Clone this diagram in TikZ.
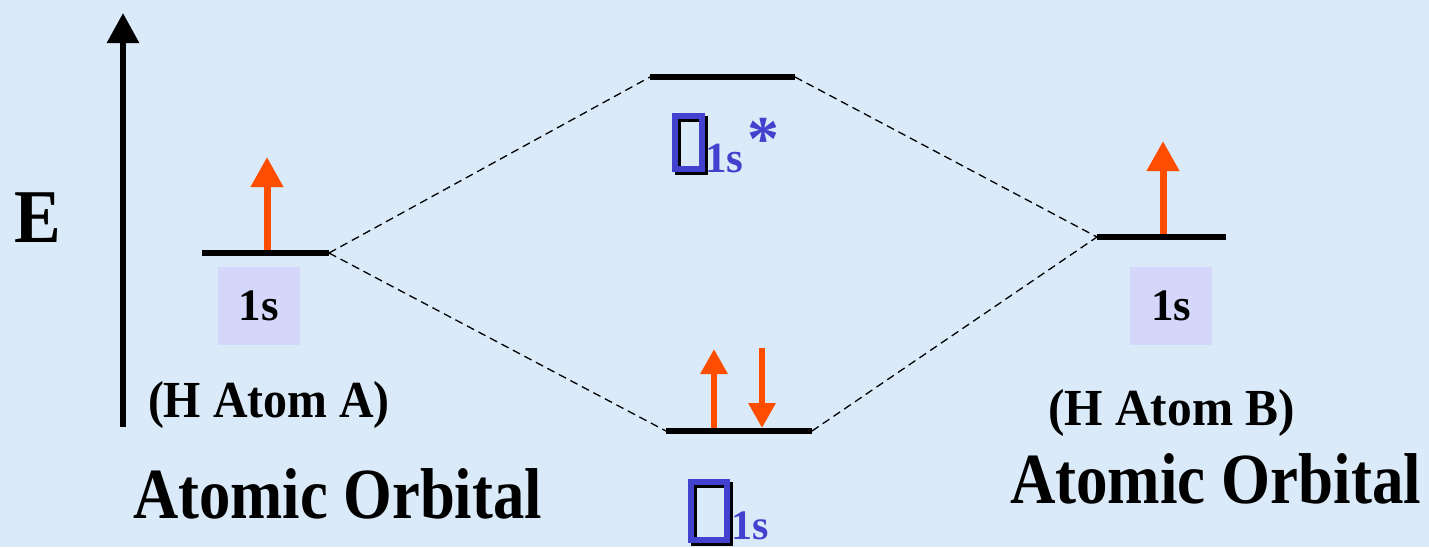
\documentclass[tikz,border=0pt]{standalone}
\usepackage{fontspec}
\setmainfont{Liberation Serif}
\usetikzlibrary{arrows.meta}
\definecolor{bgblue}{RGB}{219,234,248}
\definecolor{spinred}{RGB}{255,77,0}
\definecolor{boxlav}{RGB}{212,214,250}
\definecolor{sigblue}{RGB}{66,66,206}
\newcommand{\myfs}[1]{\fontsize{#1}{#1}\selectfont\bfseries}
\begin{document}
\begin{tikzpicture}[x=1pt,y=-1pt,
  level/.style={line width=6pt},
  corr/.style={dashed, dash pattern=on 8pt off 5pt, line width=1.3pt},
  spinbig/.style={spinred, line width=7pt, -{Triangle[width=31pt,length=30pt]}},
  spinsmall/.style={spinred, line width=6pt, -{Triangle[width=26pt,length=25pt]}},
  orbbox/.style={fill=boxlav, draw=none, minimum width=82pt, minimum height=78pt, inner sep=0pt},
  txt/.style={inner sep=0pt, outer sep=0pt},
  sigbox/.style={draw=sigblue, line width=5.5pt, inner sep=0pt, fill=none},
  sigshadow/.style={draw=black, line width=5.5pt, inner sep=0pt, fill=none}
]
\fill[bgblue] (0,0) rectangle (1429,547);
\useasboundingbox (0,0) rectangle (1429,547);

% energy axis
\coordinate (axbot) at (123,427);
\coordinate (axtop) at (123,13);
\draw[line width=6pt, -{Triangle[width=31pt,length=30pt]}] (axbot) -- (axtop);
\node[txt, anchor=base] (E) at (38,242) {\myfs{76}\scalebox{0.92}[1]{E}};

% level coordinates
\coordinate (aL) at (202,253); \coordinate (aR) at (329,253);
\coordinate (bL) at (1097,237); \coordinate (bR) at (1226,237);
\coordinate (sxL) at (650,77); \coordinate (sxR) at (795,77);
\coordinate (sL) at (666,431); \coordinate (sR) at (812,431);

% correlation lines
\draw[corr] (aR) -- (sxL);
\draw[corr] (aR) -- (sL);
\draw[corr] (sxR) -- (bL);
\draw[corr] (sR) -- (bL);

% spin arrows
\coordinate (a1) at (267,253); \coordinate (a2) at (267,157);
\coordinate (b1) at (1163,237); \coordinate (b2) at (1163,141);
\coordinate (u1) at (714,431); \coordinate (u2) at (714,349);
\coordinate (d1) at (762,348); \coordinate (d2) at (762,428);
\draw[spinbig] (a1) -- (a2);
\draw[spinbig] (b1) -- (b2);
\draw[spinsmall] (u1) -- (u2);
\draw[spinsmall] (d1) -- (d2);

% levels
\draw[level] (aL) -- (aR);
\draw[level] (bL) -- (bR);
\draw[level] (sxL) -- (sxR);
\draw[level] (sL) -- (sR);

% 1s boxes
\node[orbbox] (boxA) at (259,306) {};
\node[txt, anchor=base] (lblA) at (259,320) {\myfs{45}1s};
\node[orbbox] (boxB) at (1171,306) {};
\node[txt, anchor=base] (lblB) at (1171,320) {\myfs{45}1s};

% sigma* label
\node[sigshadow, minimum width=27pt, minimum height=53pt] (sxsh) at (691.5,145.5) {};
\node[sigbox, minimum width=27pt, minimum height=53pt] (sxbox) at (688.5,142.5) {};
\node[txt, anchor=base west, text=sigblue] (sxsub) at (705,172) {\myfs{43}1s};
\node[txt, anchor=base, text=sigblue] (star) at (763,160) {\myfs{64}*};

% sigma label
\node[sigshadow, minimum width=36pt, minimum height=58pt] (ssh) at (712,514) {};
\node[sigbox, minimum width=36pt, minimum height=58pt] (sbox) at (709,511) {};
\node[txt, anchor=base west, text=sigblue] (ssub) at (731,539) {\myfs{42}1s};

% atom labels
\node[txt, anchor=base west] (hA) at (148,417) {\myfs{52}\scalebox{0.92}[1]{(H Atom A)}};
\node[txt, anchor=base west] (hB) at (1048,425) {\myfs{52}\scalebox{0.95}[1]{(H Atom B)}};
\node[txt, anchor=base west] (aoA) at (133,518) {\myfs{72}\scalebox{0.87}[1]{Atomic Orbital}};
\node[txt, anchor=base west] (aoB) at (1010,503) {\myfs{72}\scalebox{0.875}[1]{Atomic Orbital}};
\end{tikzpicture}
\end{document}
